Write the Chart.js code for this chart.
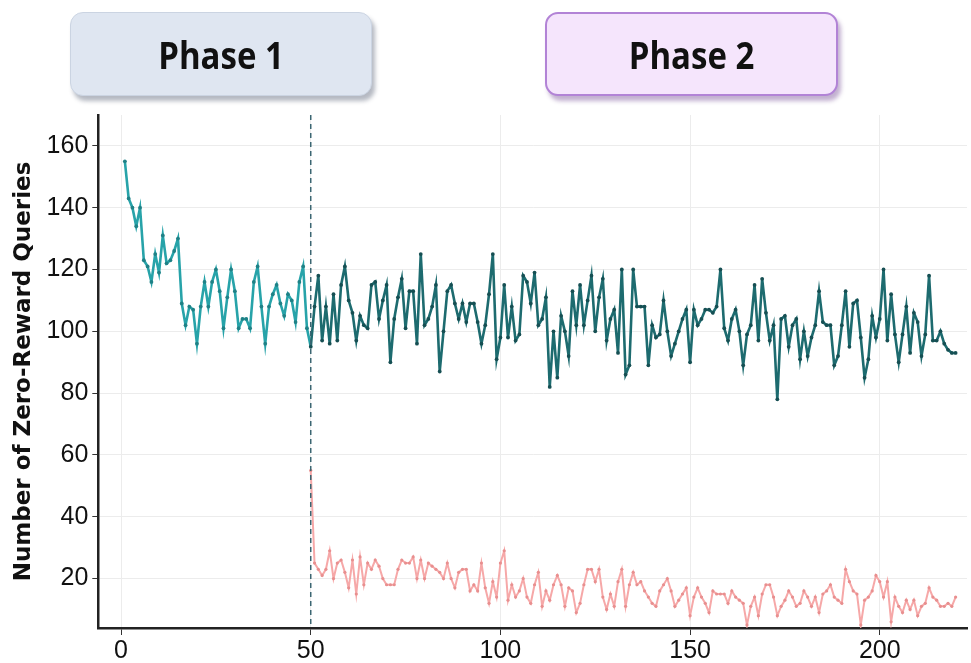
<!DOCTYPE html>
<html>
<head>
<meta charset="utf-8">
<script src="https://cdn.jsdelivr.net/npm/chart.js@4.4.1/dist/chart.umd.min.js"></script>
<style>
  body { margin: 0; background: #fff; overflow: hidden; }
  #wrap { position: relative; width: 971px; height: 663px; overflow: hidden; }
  #chart { position: absolute; left: 0; top: 0; }
  .phase {
    position: absolute; top: 12px; height: 84px; border-radius: 13px;
    display: flex; align-items: center; justify-content: center;
    font-family: "Open Sans", sans-serif; font-weight: 700; font-size: 33px; color: #111;
    box-sizing: border-box;
  }
  .phase span { display: inline-block; transform: scaleY(1.15); }
  #p1 { left: 70px; width: 302px; background: #dfe6f1; border: 1.5px solid #cbd4e2; box-shadow: 3px 5px 4px rgba(90,100,120,0.45); }
  #p2 { left: 545px; width: 293px; background: #f5e5fc; border: 2px solid #b283d6; box-shadow: 3px 5px 4px rgba(120,80,150,0.45); }
</style>
</head>
<body>
<div id="wrap">
  <canvas id="chart" width="971" height="667"></canvas>
  <div class="phase" id="p1"><span>Phase 1</span></div>
  <div class="phase" id="p2"><span>Phase 2</span></div>
</div>
<script>
// step where phase 2 starts (dashed line) and where the pink series begins
const phaseSplit = 50;
const firstStep = 1;

// Number of zero-reward queries, steps 1..220
const allQueries = [
  155,143,140,134,140,123,121,116,125,119,
  131,122,123,126,130,109,102,108,107,96,
  108,116,108,116,120,113,101,111,120,113,
  101,104,104,101,116,121,108,96,108,112,
  115,109,105,112,110,103,116,121,101,95,
  108,118,97,108,96,112,97,115,121,110,
  106,97,105,102,101,115,116,104,110,115,
  90,104,111,117,101,113,113,96,125,102,
  104,108,115,87,100,113,115,109,104,109,
  103,109,109,103,96,102,112,125,91,98,
  115,98,108,97,99,118,116,109,119,102,
  104,111,82,100,85,105,100,92,113,102,
  115,102,110,118,100,111,117,97,104,107,
  93,120,86,89,120,108,108,108,89,102,
  98,99,110,100,92,96,100,104,107,90,
  107,102,104,107,107,106,108,120,101,97,
  104,107,100,89,99,102,115,97,117,106,
  97,102,78,104,105,95,102,104,91,100,
  92,98,102,113,103,102,102,89,92,102,
  113,95,109,110,98,85,91,105,98,104,
  120,97,112,99,90,99,108,93,106,103,
  92,99,118,97,97,100,96,94,93,93
];

// phase 2 series, steps 50..220
const phase2Queries = [
  55,
  25,23,21,23,29,20,25,26,22,17,
  26,15,27,18,25,23,26,24,20,18,
  18,18,23,26,25,25,27,20,26,20,
  25,24,23,22,20,25,20,17,22,23,
  23,16,18,16,25,17,12,19,14,25,
  29,13,18,14,16,20,14,12,18,22,
  11,16,13,18,21,18,11,17,16,9,
  12,18,23,23,19,23,14,10,15,11,
  19,23,11,18,22,18,19,16,14,12,
  11,16,18,20,16,11,13,15,17,8,
  14,17,14,12,9,16,15,15,15,12,
  16,14,13,12,5,11,14,8,15,18,
  18,14,8,11,13,16,14,11,12,16,
  14,11,14,9,15,16,18,14,13,12,
  23,19,16,15,5,13,14,16,21,19,
  14,19,6,14,11,9,13,10,13,8,
  11,12,17,14,13,11,11,12,11,14
];

const xTicks = [0, 50, 100, 150, 200];
const yTicks = [20, 40, 60, 80, 100, 120, 140, 160];

const tealLight = '#27a3a9';
const tealDark = '#1d6b6f';
const pink = '#f6a8a8';

const tealPoints = allQueries.map((v, i) => ({ x: firstStep + i, y: v }));
const pinkPoints = phase2Queries.map((v, i) => ({ x: phaseSplit + i, y: v }));

const splitLine = {
  id: 'splitLine',
  afterDatasetsDraw(chart) {
    const { ctx, chartArea, scales } = chart;
    const px = scales.x.getPixelForValue(phaseSplit);
    ctx.save();
    ctx.strokeStyle = '#3b6672';
    ctx.lineWidth = 1.5;
    ctx.setLineDash([5, 4]);
    ctx.beginPath();
    ctx.moveTo(px, chartArea.top);
    ctx.lineTo(px, chartArea.bottom);
    ctx.stroke();
    ctx.restore();
  }
};

const tickFont = { family: '"Liberation Sans", Arial, sans-serif', size: 25 };

new Chart(document.getElementById('chart'), {
  type: 'line',
  data: {
    datasets: [
      {
        data: pinkPoints,
        borderColor: pink,
        borderWidth: 2,
        pointRadius: 1.6,
        pointBackgroundColor: '#e88f8f',
        pointBorderWidth: 0,
        tension: 0
      },
      {
        data: tealPoints,
        borderWidth: 2.6,
        pointRadius: 1.9,
        pointBorderWidth: 0,
        pointBackgroundColor: ctx => (ctx.raw && ctx.raw.x < phaseSplit ? '#1f8186' : '#164f53'),
        segment: {
          borderColor: ctx => (ctx.p0.parsed.x < phaseSplit ? tealLight : tealDark)
        },
        borderColor: tealDark,
        tension: 0
      }
    ]
  },
  options: {
    responsive: false,
    animation: false,
    layout: { padding: { top: 115, left: 10, right: 3, bottom: 0 } },
    plugins: { legend: { display: false }, tooltip: { enabled: false } },
    scales: {
      x: {
        type: 'linear',
        min: -6,
        max: 223,
        afterBuildTicks: axis => { axis.ticks = xTicks.map(v => ({ value: v })); },
        ticks: { font: tickFont, color: '#111', padding: 1, maxRotation: 0 },
        grid: { color: '#ececec', lineWidth: 1, tickLength: 7, tickColor: '#333' },
        border: { color: '#222', width: 2.5 }
      },
      y: {
        min: 4,
        max: 170,
        afterBuildTicks: axis => { axis.ticks = yTicks.map(v => ({ value: v })); },
        ticks: { font: tickFont, color: '#111', padding: 4 },
        grid: { color: '#ececec', lineWidth: 1, tickLength: 6, tickColor: '#333' },
        border: { color: '#222', width: 2.5 },
        title: {
          display: true,
          text: 'Number of Zero-Reward Queries',
          font: { family: '"DejaVu Sans", sans-serif', size: 23, weight: 'bold' },
          color: '#111',
          padding: { top: 0, bottom: 5 }
        }
      }
    }
  },
  plugins: [splitLine]
});
</script>
</body>
</html>
